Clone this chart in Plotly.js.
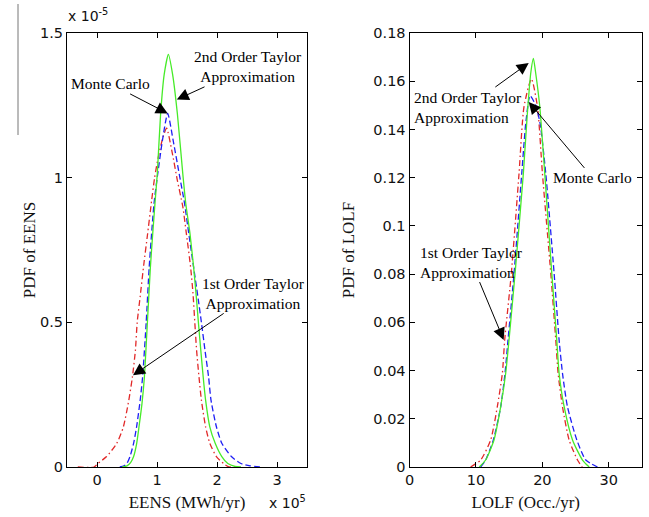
<!DOCTYPE html>
<html><head><meta charset="utf-8">
<script src="https://cdn.plot.ly/plotly-3.0.1.min.js"></script>
<style>html,body{margin:0;padding:0;background:#fff}#chart{width:649px;height:517px}</style>
</head><body><div id="chart"></div>
<script>
// ---- EENS panel (x in 1e5 MWh/yr, PDF in 1e-5) ----
const eensMcX = [0.38,0.45,0.50,0.55,0.61,0.66,0.72,0.76,0.82,0.87,0.95,1.01,1.09,1.178,1.27,1.37,1.46,1.53,1.61,1.69,1.74,1.80,1.86,1.90,1.99,2.08,2.24,2.40,2.55,2.75];
const eensMcY = [0,0.004,0.013,0.036,0.082,0.139,0.231,0.311,0.5,0.691,0.91,1.01,1.128,1.222,1.128,1.013,0.91,0.806,0.691,0.576,0.5,0.403,0.311,0.231,0.139,0.082,0.036,0.012,0.004,0];
const eensT2X = [0.42,0.50,0.56,0.61,0.66,0.70,0.75,0.79,0.84,0.89,0.93,0.97,1.005,1.06,1.12,1.19,1.26,1.34,1.43,1.48,1.55,1.61,1.66,1.69,1.73,1.77,1.81,1.88,1.97,2.08,2.18,2.30,2.40];
const eensT2Y = [0,0.004,0.015,0.036,0.08,0.139,0.22,0.311,0.5,0.691,0.81,0.921,1.013,1.22,1.357,1.426,1.357,1.22,1.013,0.91,0.806,0.691,0.576,0.5,0.403,0.311,0.231,0.139,0.082,0.036,0.012,0.002,0];
const eensT1X = [-0.32,-0.05,0.02,0.16,0.33,0.44,0.53,0.59,0.64,0.67,0.72,0.78,0.84,0.91,0.96,1.03,1.10,1.16,1.25,1.34,1.43,1.49,1.56,1.60,1.63,1.66,1.70,1.74,1.81,1.88,1.99,2.12,2.20,2.30];
const eensT1Y = [0,0,0.013,0.036,0.082,0.139,0.231,0.311,0.403,0.5,0.59,0.70,0.80,0.92,1.0,1.08,1.14,1.171,1.09,0.99,0.90,0.806,0.691,0.60,0.5,0.403,0.311,0.231,0.139,0.082,0.036,0.01,0,0];
const eensXTicks = [0,1,2,3];
const eensYTicks = [0,0.5,1,1.5];

// ---- LOLF panel ----
const lolfT2X = [10.5,11.46,12.72,13.73,14.48,14.98,15.89,17.14,17.7,18.25,18.65,19.0,19.61,20.36,21.42,22.17,22.52,23.28,24.54,26.04,27.05];
const lolfT2Y = [0,0.0029,0.0112,0.025,0.0389,0.0527,0.0803,0.1218,0.145,0.1633,0.1695,0.1633,0.1495,0.1218,0.0803,0.0527,0.0389,0.025,0.0112,0.0029,0];
const lolfMcX = [10.7,11.46,12.62,13.73,14.38,14.83,15.74,16.9,17.5,18.15,19.0,19.66,20.51,21.77,22.52,23.03,23.78,25.19,26.54,28.3];
const lolfMcY = [0,0.0029,0.0112,0.025,0.0389,0.0527,0.0803,0.1218,0.1425,0.154,0.150,0.1425,0.1218,0.0803,0.0527,0.0389,0.025,0.0112,0.0029,0];
const lolfT1X = [9.2,10.71,12.22,13.22,13.98,14.33,15.33,16.49,17.24,18.35,19.26,20.01,21.27,22.02,22.37,23.03,24.03,25.29,26.0];
const lolfT1Y = [0,0.0029,0.0112,0.025,0.0389,0.0527,0.0803,0.1218,0.1495,0.161,0.1495,0.1218,0.0803,0.0527,0.0389,0.025,0.0112,0.0029,0];
const lolfXTicks = [0,10,20,30];
const lolfYTicks = [0,0.02,0.04,0.06,0.08,0.1,0.12,0.14,0.16,0.18];

const GREEN = 'rgb(70,235,40)', BLUE = 'rgb(30,30,245)', RED = 'rgb(225,40,40)';
const SERIF = 'Liberation Serif, Times New Roman, serif';
const SANS = 'DejaVu Sans, sans-serif';

function tr(x, y, color, dash, xa, ya, name) {
  return {x: x, y: y, xaxis: xa, yaxis: ya, type: 'scatter', mode: 'lines', name: name,
    line: {color: color, width: 1.3, dash: dash, shape: 'spline', smoothing: 0.6},
    hoverinfo: 'skip', showlegend: false};
}
const DASH = '6px,3px', DASHDOT = '6px,3px,1.5px,3px';
const data = [
  tr(eensT1X, eensT1Y, RED, DASHDOT, 'x', 'y', '1st Order Taylor'),
  tr(eensMcX, eensMcY, BLUE, DASH, 'x', 'y', 'Monte Carlo'),
  tr(eensT2X, eensT2Y, GREEN, 'solid', 'x', 'y', '2nd Order Taylor'),
  tr(lolfT1X, lolfT1Y, RED, DASHDOT, 'x2', 'y2', '1st Order Taylor'),
  tr(lolfMcX, lolfMcY, BLUE, DASH, 'x2', 'y2', 'Monte Carlo'),
  tr(lolfT2X, lolfT2Y, GREEN, 'solid', 'x2', 'y2', '2nd Order Taylor')
];

const W = 649, H = 517;
const axCommon = {showline: true, linecolor: '#000', linewidth: 1, mirror: 'ticks', ticks: 'inside',
  ticklen: 5, tickcolor: '#000', showgrid: false, zeroline: false, fixedrange: true,
  tickfont: {family: SANS, size: 14.5, color: '#111'}};
const ydom = [50 / H, 484 / H];
const layout = {
  width: W, height: H, margin: {l: 0, r: 0, t: 0, b: 0},
  paper_bgcolor: '#fff', plot_bgcolor: '#fff', showlegend: false,
  xaxis: Object.assign({}, axCommon, {domain: [67 / W, 307 / W], range: [-0.5, 3.5], tickvals: eensXTicks, anchor: 'y',
    title: {text: 'EENS (MWh/yr)', font: {family: SERIF, size: 17, color: '#111'}, standoff: 8}}),
  yaxis: Object.assign({}, axCommon, {domain: ydom, range: [0, 1.5], tickvals: eensYTicks, anchor: 'x',
    title: {text: 'PDF of EENS', font: {family: SERIF, size: 17, color: '#111'}, standoff: 0}}),
  xaxis2: Object.assign({}, axCommon, {domain: [409.5 / W, 642 / W], range: [0, 35], tickvals: lolfXTicks, anchor: 'y2',
    title: {text: 'LOLF (Occ./yr)', font: {family: SERIF, size: 17, color: '#111'}, standoff: 8}}),
  yaxis2: Object.assign({}, axCommon, {domain: ydom, range: [0, 0.18], tickvals: lolfYTicks, anchor: 'x2',
    title: {text: 'PDF of LOLF', font: {family: SERIF, size: 17, color: '#111'}, standoff: 14}}),
  shapes: [
    {type: 'line', xref: 'paper', yref: 'paper', x0: 18 / W, x1: 18 / W, y0: 1 - 4 / H, y1: 1 - 135 / H,
      line: {color: '#777', width: 1}}
  ],
  annotations: []
};

const annFont = {family: SERIF, size: 15.5, color: '#000'};
function arrowAnn(xa, ya, hx, hy, tx, ty, text, align) {
  return {xref: xa, yref: ya, axref: xa, ayref: ya, x: hx, y: hy, ax: tx, ay: ty, text: text,
    showarrow: true, arrowhead: 2, arrowsize: 2.4, arrowwidth: 1, arrowcolor: '#000', standoff: 0,
    font: annFont, align: align || 'center'};
}
layout.annotations.push(
  arrowAnn('x', 'y', 1.18, 1.222, 0.23, 1.324, 'Monte Carlo'),
  arrowAnn('x', 'y', 1.33, 1.27, 2.52, 1.383, '2nd Order Taylor<br>Approximation'),
  arrowAnn('x', 'y', 0.60, 0.317, 2.6, 0.60, '1st Order Taylor<br>Approximation'),
  arrowAnn('x2', 'y2', 17.95, 0.1676, 8.75, 0.1493, '2nd Order Taylor<br>Approximation', 'left'),
  arrowAnn('x2', 'y2', 17.95, 0.1514, 27.6, 0.1199, 'Monte Carlo'),
  arrowAnn('x2', 'y2', 14.18, 0.0527, 9.3, 0.085, '1st Order Taylor<br>Approximation', 'left'),
  {xref: 'paper', yref: 'paper', x: 66 / W, y: 1 - 26 / H, xanchor: 'left', yanchor: 'bottom',
    text: 'x 10<sup>-5</sup>', showarrow: false, font: {family: SANS, size: 14, color: '#111'}},
  {xref: 'paper', yref: 'paper', x: 267 / W, y: 1 - 513 / H, xanchor: 'left', yanchor: 'bottom',
    text: 'x 10<sup>5</sup>', showarrow: false, font: {family: SANS, size: 14, color: '#111'}}
);

Plotly.newPlot('chart', data, layout, {staticPlot: true, displayModeBar: false});
</script>
</body></html>
